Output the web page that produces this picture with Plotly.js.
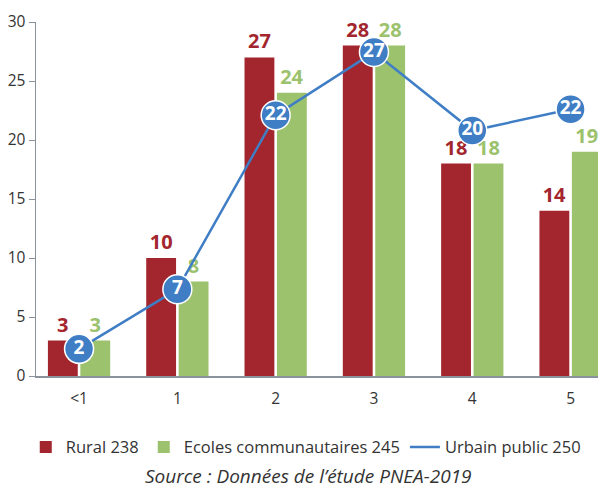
<!DOCTYPE html>
<html><head><meta charset="utf-8">
<script src="https://cdn.plot.ly/plotly-3.0.1.min.js"></script>
<style>html,body{margin:0;padding:0;background:#fff;}#chart{width:598px;height:489px;}</style>
</head><body><div id="chart"></div>
<script>
const categories = ['<1', '1', '2', '3', '4', '5'];
const rural = [3, 10, 27, 28, 18, 14];
const ecoles = [3, 8, 24, 28, 18, 19];
const urbain = [2.3, 7.35, 22.1, 27.45, 20.8, 22.6];
const urbainLabels = ['2', '7', '22', '27', '20', '22'];
const seriesNames = ['Rural 238', 'Ecoles communautaires 245', 'Urbain public 250'];
const sourceText = 'Source : Données de l\u2019étude PNEA-2019';

const RED = '#A3262E', GREEN = '#9CC26D', BLUE = '#3F7EC5';
const FONT = 'Open Sans, sans-serif';

const traces = [
  {type:'bar', x:categories, y:rural, name:seriesNames[0], marker:{color:RED},
   text:rural.map(String), textposition:'outside', cliponaxis:false, constraintext:'none',
   textfont:{family:FONT, size:20, color:RED, weight:'bold'}},
  {type:'bar', x:categories, y:ecoles, name:seriesNames[1], marker:{color:GREEN},
   text:ecoles.map(String), textposition:'outside', cliponaxis:false, constraintext:'none',
   textfont:{family:FONT, size:20, color:GREEN, weight:'bold'}},
  {type:'scatter', mode:'lines', x:categories, y:urbain, name:seriesNames[2],
   line:{color:BLUE, width:2.5}, cliponaxis:false},
  {type:'scatter', mode:'markers+text', x:categories, y:urbain, showlegend:false,
   marker:{color:BLUE, size:29, line:{color:'#ffffff', width:1.5}},
   text:urbainLabels, textposition:'middle center',
   textfont:{family:FONT, size:19, color:'#ffffff', weight:'bold'}, cliponaxis:false}
];

const layout = {
  width:598, height:489,
  margin:{l:36, r:0, t:22, b:113},
  paper_bgcolor:'#fff', plot_bgcolor:'#fff',
  font:{family:FONT, color:'#333', size:15},
  barmode:'group', bargap:0.34, bargroupgap:0.08,
  showlegend:true,
  legend:{orientation:'h', x:0.48, xanchor:'center', y:-0.201, yanchor:'middle',
          font:{family:FONT, size:16.5, color:'#333'}, traceorder:'normal'},
  xaxis:{type:'category', range:[-0.438, 5.279], showline:true, linecolor:'#8A939C', linewidth:1.5,
         ticks:'', showgrid:false, zeroline:false, tickfont:{family:FONT, size:15.5, color:'#333'},
         ticklabelstandoff:8},
  yaxis:{range:[0,30], dtick:5, showline:true, linecolor:'#8A939C', linewidth:1.5,
         ticks:'outside', ticklen:6, tickcolor:'#8A939C', showgrid:false, zeroline:false,
         tickfont:{family:FONT, size:15.5, color:'#333'}},
  annotations:[
    {text:sourceText, xref:'paper', yref:'paper', x:0.485, y:-0.282, xanchor:'center', yanchor:'middle',
     showarrow:false, font:{family:FONT, size:19, color:'#333', style:'italic'}}
  ]
};

Plotly.newPlot('chart', traces, layout, {displayModeBar:false, staticPlot:true});
</script>
</body></html>
